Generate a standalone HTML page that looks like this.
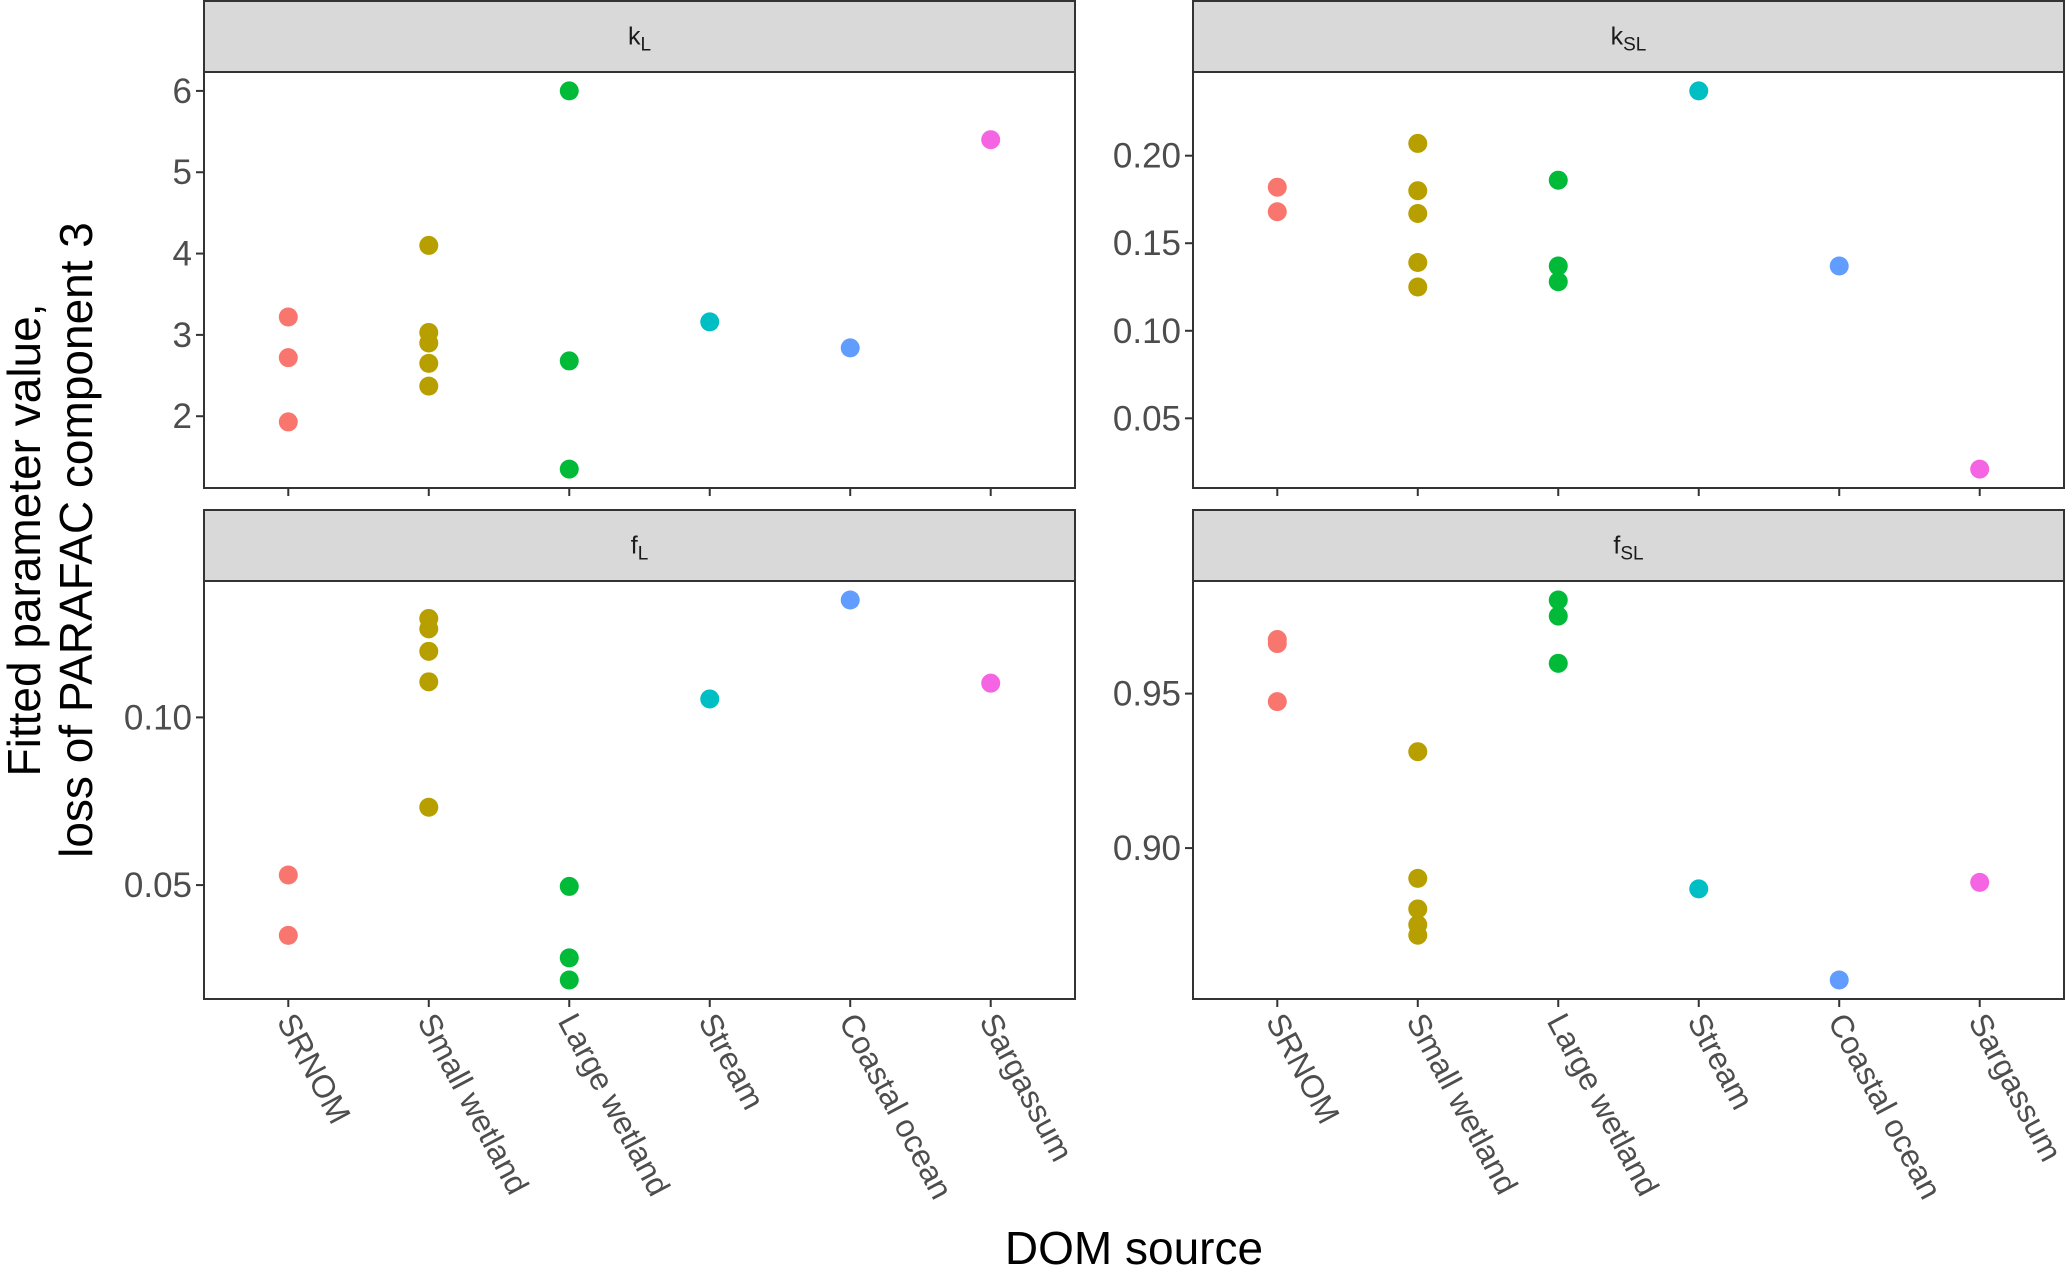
<!DOCTYPE html>
<html><head><meta charset="utf-8"><style>
html,body{margin:0;padding:0;background:#fff}
svg{display:block;font-family:"Liberation Sans",sans-serif}
</style></head><body>
<svg id="chart" width="2067" height="1268" viewBox="0 0 2067 1268" xmlns="http://www.w3.org/2000/svg">
<text x="1134" y="1264" font-size="46" text-anchor="middle" fill="#000">DOM source</text>
<g transform="translate(0,540) rotate(-90)">
<text x="0" y="40" font-size="46" text-anchor="middle">Fitted parameter value,</text>
<text x="0" y="92" font-size="46" text-anchor="middle">loss of PARAFAC component 3</text>
</g>
</svg>
<script>
const categories = ["SRNOM","Small wetland","Large wetland","Stream","Coastal ocean","Sargassum"];
const colors = ["#F8766D","#B79F00","#00BA38","#00BFC4","#619CFF","#F564E3"];
const kL_cat = [0,0,0,1,1,1,1,1,2,2,2,3,4,5];
const kL_val = [3.22,2.72,1.93,4.1,3.03,2.9,2.65,2.37,6.0,2.68,1.35,3.16,2.84,5.4];
const kL_ticks = [2,3,4,5,6];
const kSL_cat = [0,0,1,1,1,1,1,2,2,2,3,4,5];
const kSL_val = [0.182,0.168,0.207,0.180,0.167,0.139,0.125,0.186,0.137,0.128,0.237,0.137,0.021];
const kSL_ticks = [0.05,0.10,0.15,0.20];
const fL_cat = [0,0,1,1,1,1,1,2,2,2,3,4,5];
const fL_val = [0.053,0.035,0.1295,0.1264,0.1197,0.1106,0.0732,0.0496,0.0283,0.0217,0.1055,0.135,0.1102];
const fL_ticks = [0.05,0.10];
const fSL_cat = [0,0,0,1,1,1,1,1,2,2,2,3,4,5];
const fSL_val = [0.9675,0.9662,0.9474,0.9312,0.8902,0.8803,0.8752,0.8718,0.9803,0.9751,0.9598,0.8868,0.8573,0.8889];
const fSL_ticks = [0.90,0.95];

const NS="http://www.w3.org/2000/svg";
const svg=document.getElementById('chart');
function mk(tag,attrs,parent){const e=document.createElementNS(NS,tag);for(const k in attrs)e.setAttribute(k,attrs[k]);(parent||svg).appendChild(e);return e;}

const panels=[
 {name:"kL",main:"k",sub:"L",cat:kL_cat,val:kL_val,ticks:kL_ticks,dec:0,x0:204,x1:1075,sy0:1,sy1:72,py1:488,xlab:false},
 {name:"kSL",main:"k",sub:"SL",cat:kSL_cat,val:kSL_val,ticks:kSL_ticks,dec:2,x0:1193,x1:2064,sy0:1,sy1:72,py1:488,xlab:false},
 {name:"fL",main:"f",sub:"L",cat:fL_cat,val:fL_val,ticks:fL_ticks,dec:2,x0:204,x1:1075,sy0:510,sy1:581,py1:999,xlab:true},
 {name:"fSL",main:"f",sub:"SL",cat:fSL_cat,val:fSL_val,ticks:fSL_ticks,dec:2,x0:1193,x1:2064,sy0:510,sy1:581,py1:999,xlab:true}
];

panels.forEach(p=>{
 const g=mk('g',{});
 
 
 const mn=Math.min(...p.val),mx=Math.max(...p.val),pad=(mx-mn)*0.05;
 const lo=mn-pad,hi=mx+pad;
 const py0=p.sy1;
 const y=v=>p.py1-(v-lo)/(hi-lo)*(p.py1-py0);
 const bw=(p.x1-p.x0)/(categories.length-1+1.2);
 const x=i=>p.x0+(i+0.6)*bw;
 const strip=mk('rect',{x:p.x0,y:p.sy0,width:p.x1-p.x0,height:p.sy1-p.sy0,fill:"#D9D9D9",stroke:"#333",'stroke-width':2},g);
 
 
 const st=mk('text',{x:(p.x0+p.x1)/2,y:(p.sy0+p.sy1)/2+8,'font-size':25,'text-anchor':'middle',fill:'#1A1A1A'},g);
 
 
 st.appendChild(document.createTextNode(p.main));
 const ts=mk('tspan',{'font-size':19,dy:6},st);ts.textContent=p.sub;
 const bg=mk('rect',{x:p.x0,y:py0,width:p.x1-p.x0,height:p.py1-py0,fill:"#fff",stroke:"#333",'stroke-width':2},g);
 
 
 p.ticks.forEach(t=>{
  const ty=y(t);
  const tl=mk('line',{x1:p.x0-8,x2:p.x0,y1:ty,y2:ty,stroke:'#333','stroke-width':2},g);
  
  
  const tx=mk('text',{x:p.x0-12,y:ty+12,'font-size':35,'text-anchor':'end',fill:'#4D4D4D'},g);
  
  
  tx.textContent=t.toFixed(p.dec);
 });
 categories.forEach((c,i)=>{
  const tl=mk('line',{x1:x(i),x2:x(i),y1:p.py1,y2:p.py1+8,stroke:'#333','stroke-width':2},g);
  
  
  if(p.xlab){
   const tx=mk('text',{x:0,y:0,'font-size':32,fill:'#4D4D4D',transform:`translate(${x(i)-12},${p.py1+22}) rotate(62)`},g);
   
   
   tx.textContent=c;
  }
 });
 p.val.forEach((v,k)=>{
  const ci=p.cat[k];
  const d=mk('circle',{cx:x(ci),cy:y(v),r:9.5,fill:colors[ci]},g);
  
  
 });
});
</script>
</body></html>
